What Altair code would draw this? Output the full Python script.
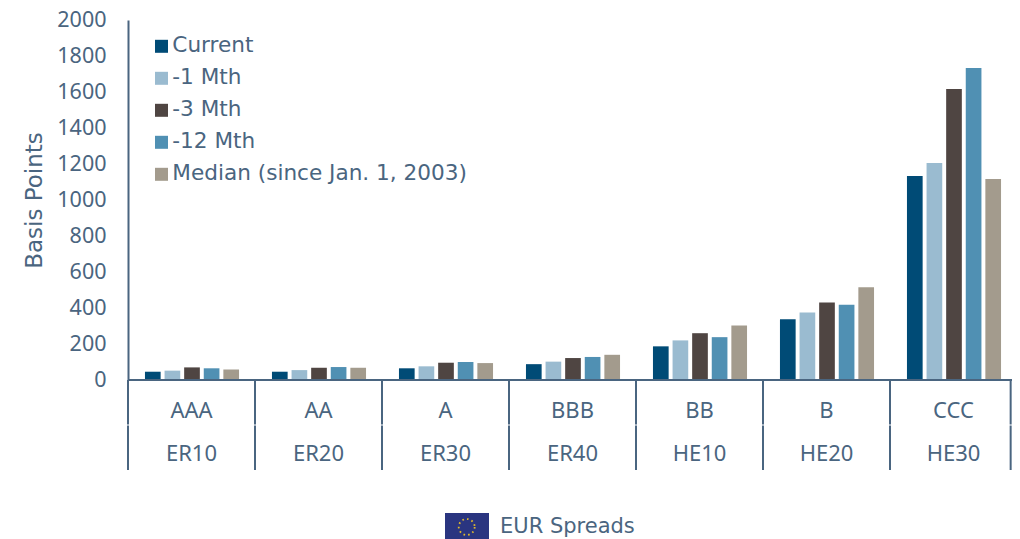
import altair as alt
import pandas as pd

ratings = ["AAA", "AA", "A", "BBB", "BB", "B", "CCC"]
indices = ["ER10", "ER20", "ER30", "ER40", "HE10", "HE20", "HE30"]
series = ["Current", "-1 Mth", "-3 Mth", "-12 Mth", "Median (since Jan. 1, 2003)"]
colors = ["#004b76", "#9abbd0", "#4f4542", "#5090b3", "#a39b8d"]
current = [46, 46, 65, 88, 187, 338, 1133]
m1 = [52, 55, 76, 102, 220, 375, 1205]
m3 = [70, 68, 96, 122, 260, 430, 1617]
m12 = [65, 72, 100, 128, 238, 418, 1733]
median = [59, 68, 94, 140, 303, 515, 1117]
boundaries = [0, 1, 2, 3, 4, 5, 6, 6.95]
y_ticks = list(range(0, 2001, 200))

INK = "#4a6580"
NUM_FONT = "Noto Sans"
TXT_FONT = "DejaVu Sans"
FULL = [0, 889]
BAR_RANGE = [0.5, 889.5]

rows = []
for s, vals in zip(series, [current, m1, m3, m12, median]):
    for r, v in zip(ratings, vals):
        rows.append({"rating": r, "series": s, "value": v})
df = pd.DataFrame(rows)

bars = alt.Chart(df).mark_bar(cornerRadius=0).encode(
    x=alt.X("rating:N", sort=ratings, axis=None,
            scale=alt.Scale(paddingInner=0, paddingOuter=0, range=BAR_RANGE)),
    xOffset=alt.XOffset("series:N", sort=series,
                        scale=alt.Scale(paddingInner=0.2, paddingOuter=0.84)),
    y=alt.Y("value:Q", scale=alt.Scale(domain=[0, 2000], nice=False),
            axis=alt.Axis(title="Basis Points", values=y_ticks, ticks=False, grid=False,
                          format="d", domainColor=INK, domainWidth=2, labelColor=INK,
                          labelFont=NUM_FONT, labelFontSize=21.5, labelPadding=22,
                          titleColor=INK, titleFont=TXT_FONT, titleFontSize=23,
                          titleFontWeight="normal", titlePadding=10)),
    color=alt.Color("series:N", sort=series,
                    scale=alt.Scale(domain=series, range=colors),
                    legend=alt.Legend(title=None, orient="none", legendX=22.7, legendY=15.5,
                                      symbolType="square", symbolSize=169, symbolStrokeWidth=0,
                                      labelFont=TXT_FONT, labelFontSize=21.6, labelColor=INK,
                                      labelOffset=0, rowPadding=9, padding=0,
                                      labelLimit=400)),
)

bx = pd.DataFrame({"b": boundaries})
xq = alt.X("b:Q", scale=alt.Scale(domain=[0, 7], nice=False, zero=False, range=FULL), axis=None)
seps_top = alt.Chart(bx).mark_rule(color=INK, strokeWidth=2).encode(
    x=xq, y=alt.value(360), y2=alt.value(404.5))
seps_bot = alt.Chart(bx).mark_rule(color=INK, strokeWidth=2).encode(
    x=xq, y=alt.value(405.5), y2=alt.value(450))
baseline = alt.Chart(bx).mark_rule(color=INK, strokeWidth=2).encode(
    x=alt.value(0), x2=alt.value(884), y=alt.value(360))

lab = pd.DataFrame({"rating": ratings, "index": indices})
x_lab = alt.X("rating:N", sort=ratings, axis=None,
              scale=alt.Scale(paddingInner=0, paddingOuter=0, range=FULL))
t1 = alt.Chart(lab).mark_text(font=NUM_FONT, fontSize=22, color=INK, baseline="middle").encode(
    x=x_lab, text="rating:N", y=alt.value(390.5))
t2 = alt.Chart(lab).mark_text(font=NUM_FONT, fontSize=22, color=INK, baseline="middle").encode(
    x=x_lab, text="index:N", y=alt.value(434))

foot = pd.DataFrame({"label": ["EUR Spreads"]})
flag = alt.Chart(foot).mark_rect(color="#2a3580").encode(
    x=alt.value(317), x2=alt.value(361), y=alt.value(493), y2=alt.value(520))
stars = alt.Chart(foot).mark_point(shape="circle", filled=False, size=254, color="#e0b92c",
                                   strokeWidth=1.8, strokeDash=[1.6, 3.1], opacity=1).encode(
    x=alt.value(338.7), y=alt.value(507))
ftext = alt.Chart(foot).mark_text(font=TXT_FONT, fontSize=21, color=INK, align="left", baseline="middle").encode(
    x=alt.value(372), y=alt.value(507), text="label:N")

chart = alt.layer(bars, seps_top, seps_bot, baseline, t1, t2, flag, stars, ftext).resolve_scale(x="independent").properties(
    width=884, height=360,
    background="white",
    autosize=alt.AutoSizeParams(type="none"),
    padding={"left": 120, "top": 12, "right": 0, "bottom": 159},
).configure_view(stroke="transparent", strokeWidth=0)

chart.save("out.html", embed_options={"renderer": "svg", "actions": False})
